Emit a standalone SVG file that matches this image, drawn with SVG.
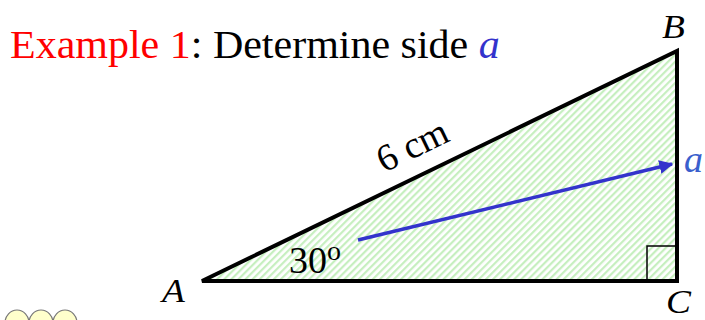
<svg xmlns="http://www.w3.org/2000/svg" width="705" height="320" viewBox="0 0 705 320">
<defs>
<pattern id="hatch" patternUnits="userSpaceOnUse" width="5" height="5" patternTransform="rotate(45)">
<rect width="5" height="5" fill="#ffffff"/>
<rect width="2.2" height="5" fill="#c6efbf"/>
</pattern>
<marker id="arr" viewBox="0 0 10 10" refX="9" refY="5" markerWidth="4" markerHeight="4" orient="auto" markerUnits="strokeWidth">
<path d="M0,0 L10,5 L0,10 Z" fill="#3333cc"/>
</marker>
</defs>
<style>
.t{font-family:"Liberation Serif","Times New Roman",serif;}
.it{font-style:italic;}
</style>
<rect width="705" height="320" fill="#ffffff"/>
<g id="title">
<text class="t" x="0" y="0" font-size="40" transform="translate(10,58) scale(1.05,1)"><tspan fill="#ff0000">Example 1</tspan><tspan fill="#000000">: Determine side </tspan><tspan class="it" fill="#3333cc">a</tspan></text>
</g>
<g id="triangle">
<polygon points="202,281 677,51 677,281" fill="url(#hatch)" stroke="#000000" stroke-width="4" stroke-linejoin="miter"/>
<polyline points="647,281 647,246 677,246" fill="none" stroke="#000000" stroke-width="1.5"/>
</g>
<g id="connectors">
<line x1="358" y1="240" x2="672" y2="164" stroke="#3333cc" stroke-width="3.5" marker-end="url(#arr)"/>
</g>
<g id="labels">
<text class="t it" x="0" y="0" font-size="34" transform="translate(162,302) scale(1.1,1)">A</text>
<text class="t it" x="0" y="0" font-size="34" transform="translate(662,38) scale(1.1,1)">B</text>
<text class="t it" x="0" y="0" font-size="34" transform="translate(666,313) scale(1.1,1)">C</text>
<text class="t it" x="684" y="172" font-size="38" fill="#3a5fcd">a</text>
<text class="t" x="289" y="273" font-size="38">30<tspan font-size="28" dy="-13">o</tspan></text>
<text class="t" font-size="38" transform="translate(384,173) rotate(-25.8)">6 cm</text>
</g>
<g id="cloud">
<ellipse cx="17" cy="323" rx="12" ry="13" fill="#ffffcc" stroke="#777777" stroke-width="1.2"/>
<ellipse cx="41" cy="323" rx="12" ry="13" fill="#ffffcc" stroke="#777777" stroke-width="1.2"/>
<ellipse cx="65" cy="323" rx="12" ry="13" fill="#ffffcc" stroke="#777777" stroke-width="1.2"/>
</g>
</svg>
